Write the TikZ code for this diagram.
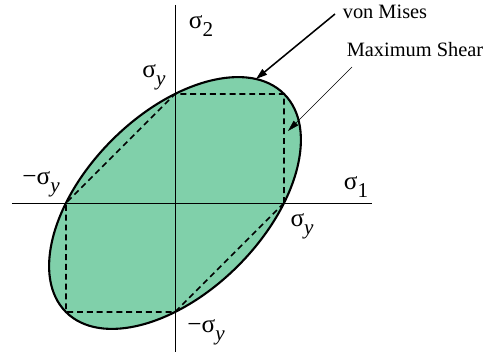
\documentclass[tikz,border=0pt]{standalone}
\usepackage{fontspec}
\setmainfont{Liberation Serif}
\usetikzlibrary{arrows.meta}
\definecolor{vmfill}{RGB}{128,208,170}
\newcommand{\lsub}[1]{\raisebox{-0.32em}{\fontsize{15}{16}\selectfont #1}}

\begin{document}
\begin{tikzpicture}[
  x=0.025cm, y=0.025cm,
  axis/.style={draw=black, line width=0.6pt},
  vonmises/.style={draw=black, line width=1.5pt, fill=vmfill},
  tresca/.style={draw=black, line width=1.1pt, dash pattern=on 4.2pt off 2.8pt},
  stresslab/.style={inner sep=0pt, font=\fontsize{18}{20}\selectfont},
  callout/.style={inner sep=0pt, font=\fontsize{14.5}{16}\selectfont},
  pointer/.style={line width=1.1pt, -{Triangle[length=8pt, width=5pt]}},
  thinpointer/.style={line width=0.4pt, -{Triangle[length=8pt, width=4.5pt]}}
]
\useasboundingbox (-175,-149) rectangle (309,203);

% --- von Mises ellipse ---
\draw[vonmises, rotate=45] (0,0) ellipse [x radius=154.2, y radius=89];

% --- Axes ---
\coordinate (xl) at (-163,0);
\coordinate (xr) at (197,0);
\coordinate (yt) at (0,198);
\coordinate (yb) at (0,-149);
\draw[axis] (xl) -- (xr);
\draw[axis] (yt) -- (yb);

% --- Maximum shear hexagon ---
\coordinate (R)  at (109,0);
\coordinate (RT) at (109,109);
\coordinate (T)  at (0,109);
\coordinate (L)  at (-109,0);
\coordinate (LB) at (-109,-109);
\coordinate (B)  at (0,-109);
\draw[tresca] (R) -- (RT) -- (T) -- (L) -- (LB) -- (B) -- cycle;

% --- Axis and yield labels ---
\node[stresslab] (s2)   at (26,177)   {σ\lsub{2}};
\node[stresslab] (s1)   at (181,16)   {σ\lsub{1}};
\node[stresslab] (syt)  at (-21,126)  {σ\lsub{\itshape y}};
\node[stresslab] (syl)  at (-134,19)  {−σ\lsub{\itshape y}};
\node[stresslab] (syr)  at (127,-23)  {σ\lsub{\itshape y}};
\node[stresslab] (syb)  at (31,-129)  {−σ\lsub{\itshape y}};

% --- Callouts ---
\node[callout] (vm) at (210,191) {von Mises};
\node[callout] (ms) at (240,153) {Maximum Shear};

\coordinate (vmfrom) at (160,189);
\coordinate (vmtip)  at (81,124);
\coordinate (msfrom) at (177,136);
\coordinate (mstip)  at (113,72);
\draw[pointer] (vmfrom) -- (vmtip);
\draw[thinpointer] (msfrom) -- (mstip);

\end{tikzpicture}
\end{document}
